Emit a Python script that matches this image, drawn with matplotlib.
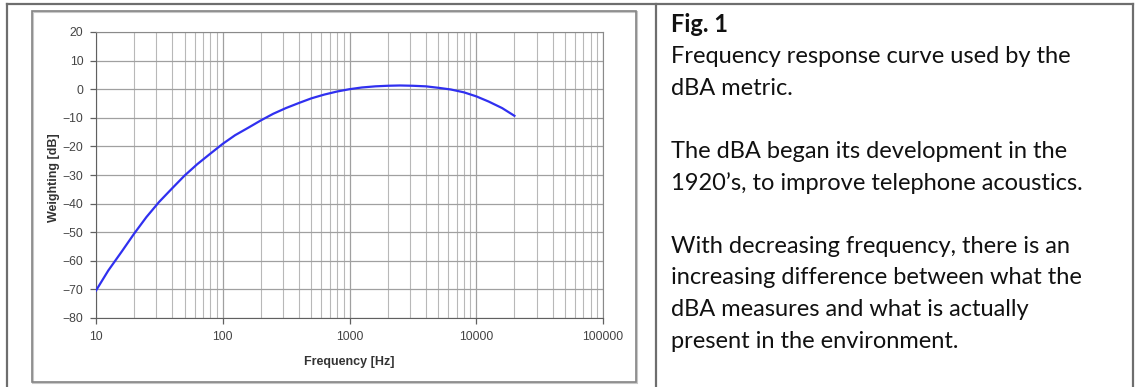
import numpy as np
import matplotlib
matplotlib.use("Agg")
import matplotlib.pyplot as plt
from matplotlib.patches import Rectangle
from matplotlib.lines import Line2D
from matplotlib.ticker import LogLocator, FixedLocator, NullFormatter

# A-weighting curve (Hz, dB)
freq = [10, 12.5, 16, 20, 25, 31.5, 40, 50, 63, 80, 100, 125, 160, 200, 250,
        315, 400, 500, 630, 800, 1000, 1250, 1600, 2000, 2500, 3150, 4000,
        5000, 6300, 8000, 10000, 12500, 16000, 20000]
weight = [-70.4, -63.4, -56.7, -50.5, -44.7, -39.4, -34.6, -30.2, -26.2, -22.5,
          -19.1, -16.1, -13.4, -10.9, -8.6, -6.6, -4.8, -3.2, -1.9, -0.8,
          0.0, 0.6, 1.0, 1.2, 1.3, 1.2, 1.0, 0.5, -0.1, -1.1,
          -2.5, -4.3, -6.6, -9.3]

x_ticks = [10, 100, 1000, 10000, 100000]
x_labels = ["10", "100", "1000", "10000", "100000"]
y_ticks = [20, 10, 0, -10, -20, -30, -40, -50, -60, -70, -80]

caption = ["Fig. 1",
           "Frequency response curve used by the",
           "dBA metric.",
           "",
           "The dBA began its development in the",
           "1920\u2019s, to improve telephone acoustics.",
           "",
           "With decreasing frequency, there is an",
           "increasing difference between what the",
           "dBA measures and what is actually",
           "present in the environment."]

W, H = 1135, 387
fig = plt.figure(figsize=(W / 100, H / 100), dpi=100)
fig.patch.set_facecolor("white")


def px(x, y):
    return x / W, 1 - y / H


# outer table frame (open at bottom)
frame_col = "#6e6e6e"
for (x0, y0), (x1, y1) in [((7, 4), (1133, 4)), ((7, 4), (7, 387)),
                           ((1133, 4), (1133, 387)), ((656, 4), (656, 387))]:
    a, b = px(x0, y0)
    c, d = px(x1, y1)
    fig.add_artist(Line2D([a, c], [b, d], color=frame_col, lw=1.6))

# chart area frame with a slight shadow
a, b = px(33, 383)
fig.add_artist(Rectangle((a, b), 604 / W, 371 / H, fill=False,
                         ec="#c8c8c8", lw=1.5))
a, b = px(32, 382)
fig.add_artist(Rectangle((a, b), 604 / W, 371 / H, fill=False,
                         ec="#858585", lw=1.2))

# plot area
l, b = px(96, 318)
ax = fig.add_axes([l, b, (603 - 96) / W, (318 - 32) / H])
ax.plot(freq, weight, color="#3030f0", lw=1.6, zorder=3)
ax.set_xscale("log")
ax.set_xlim(10, 100000)
ax.set_ylim(-80, 20)

ax.xaxis.set_major_locator(FixedLocator(x_ticks))
ax.set_xticklabels(x_labels)
ax.xaxis.set_minor_locator(LogLocator(base=10, subs=np.arange(2, 10)))
ax.xaxis.set_minor_formatter(NullFormatter())
ax.set_yticks(y_ticks)

ax.grid(True, which="major", color="#a0a0a0", lw=0.9)
ax.grid(True, which="minor", axis="x", color="#b8b8b8", lw=0.8)
ax.set_axisbelow(True)

for s in ["top", "right"]:
    ax.spines[s].set_color("#8a8a8a")
for s in ["left", "bottom"]:
    ax.spines[s].set_color("#606060")
ax.tick_params(which="major", length=4, width=0.9, color="#606060",
               labelsize=8.8, labelcolor="#444444", pad=5)
ax.tick_params(which="minor", length=0)
for t in ax.get_xticklabels() + ax.get_yticklabels():
    t.set_fontfamily("Liberation Sans")

ax.set_xlabel("Frequency [Hz]", fontsize=9, fontweight="bold",
              family="Liberation Sans", color="#333333", labelpad=10)
ax.set_ylabel("Weighting [dB]", fontsize=9, fontweight="bold",
              family="Liberation Sans", color="#333333")
ax.yaxis.set_label_coords(-0.071, 0.49)

# caption text on the right
y0 = 25
step = 31.6
for i, line in enumerate(caption):
    if not line:
        continue
    tx, ty = px(671, y0 + i * step)
    fig.text(tx, ty, line, fontsize=17, family="Lato", color="#111111",
             fontweight="bold" if i == 0 else "normal", va="center", ha="left")

fig.savefig("out.png", dpi=100, facecolor="white")
